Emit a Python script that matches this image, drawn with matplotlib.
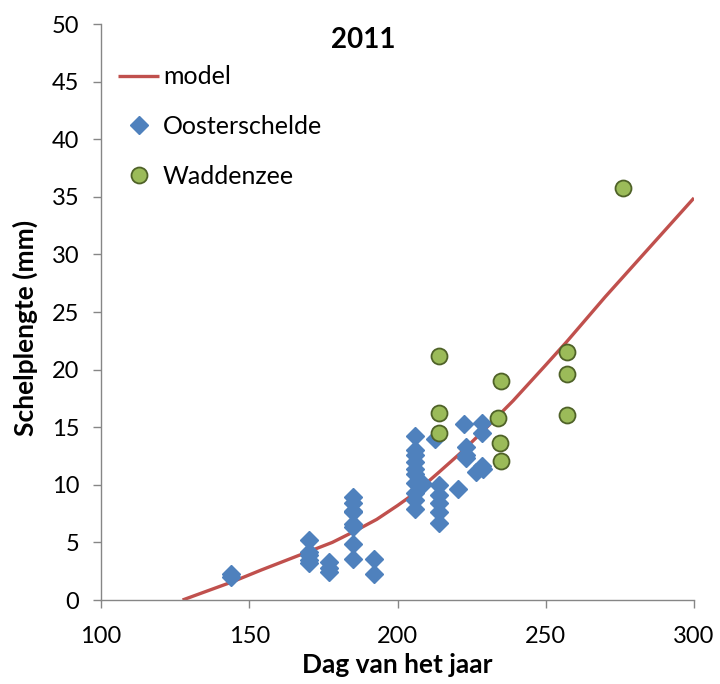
import matplotlib
matplotlib.use("Agg")
import matplotlib.pyplot as plt

# model curve (day of year, shell length in mm)
model_day = [127.5, 136, 144, 154, 162, 170, 178, 185, 193, 200, 206, 214,
             221, 229, 239, 250, 257, 270, 285, 300]
model_len = [0.0, 0.8, 1.55, 2.6, 3.4, 4.2, 5.0, 5.9, 7.0, 8.2, 9.3, 11.1,
             12.7, 14.7, 17.3, 20.4, 22.4, 26.3, 30.6, 34.9]

# Oosterschelde samples
oost_day = [144, 144,
            170, 170, 170, 170, 170,
            177, 177, 177,
            185, 185, 185, 185, 185, 185, 185, 185,
            192, 192,
            206, 206, 206, 206, 206, 206, 206, 206, 206, 206,
            208.5, 212.6,
            214, 214, 214, 214, 214,
            220.5,
            222.5, 223, 223, 223,
            226.5, 228.5, 228.5, 228.5, 229]
oost_len = [2.3, 2.0,
            5.2, 4.2, 3.9, 3.5, 3.2,
            3.3, 2.8, 2.4,
            8.9, 8.4, 7.7, 7.6, 6.6, 6.3, 4.9, 3.6,
            3.6, 2.3,
            14.2, 13.0, 12.6, 12.0, 11.4, 10.9, 10.2, 9.3, 8.7, 7.9,
            10.1, 14.0,
            10.0, 9.1, 8.4, 7.6, 6.7,
            9.6,
            15.3, 13.3, 12.6, 12.3,
            11.1, 15.4, 14.5, 11.6, 11.4]

# Waddenzee samples
wad_day = [214, 214, 214, 235, 234, 234.5, 235, 257, 257, 257, 276]
wad_len = [21.2, 16.2, 14.5, 19.0, 15.8, 13.6, 12.1, 21.5, 19.6, 16.1, 35.8]

x_ticks = [100, 150, 200, 250, 300]
y_ticks = [0, 5, 10, 15, 20, 25, 30, 35, 40, 45, 50]

plt.rcParams["font.family"] = ["Lato", "DejaVu Sans"]

fig = plt.figure(figsize=(7.2, 6.84), dpi=100)
ax = fig.add_axes([0.1403, 0.1228, 0.8236, 0.8421])

ax.plot(model_day, model_len, color="#C0504D", lw=2.4, label="model",
        solid_capstyle="butt", zorder=2)
ax.plot(oost_day, oost_len, ls="none", marker="D", ms=9, color="#4F81BD",
        mec="#4F81BD", label="Oosterschelde", zorder=3)
ax.plot(wad_day, wad_len, ls="none", marker="o", ms=11.5, color="#9BBB59",
        mec="#4F6228", mew=1.3, label="Waddenzee", zorder=4)

ax.set_xlim(100, 300)
ax.set_ylim(0, 50)
ax.set_xticks(x_ticks)
ax.set_yticks(y_ticks)
ax.tick_params(labelsize=17, length=5.8, width=1, color="#868686",
               labelcolor="#000000")
ax.tick_params(axis="y", pad=10)
ax.tick_params(axis="x", pad=13)

for side in ("top", "right"):
    ax.spines[side].set_visible(False)
for side in ("left", "bottom"):
    ax.spines[side].set_color("#868686")
    ax.spines[side].set_linewidth(1)

ax.set_xlabel("Dag van het jaar", fontsize=19, fontweight="bold",
              va="baseline")
ax.xaxis.set_label_coords(0.5, -73 / 576)
ax.set_ylabel("Schelplengte (mm)", fontsize=19, fontweight="bold",
              va="center", ha="center")
ax.yaxis.set_label_coords(-76 / 593, 272 / 576)

ax.text(0.442, 0.972, "2011", transform=ax.transAxes, ha="center",
        va="center", fontsize=20, fontweight="bold")

ax.legend(loc="upper left", bbox_to_anchor=(17 / 593, 0.928), frameon=False,
          fontsize=18, handlelength=1.65, handletextpad=0.15,
          labelspacing=1.07, borderaxespad=0, borderpad=0)

fig.savefig("out.png", dpi=100)
